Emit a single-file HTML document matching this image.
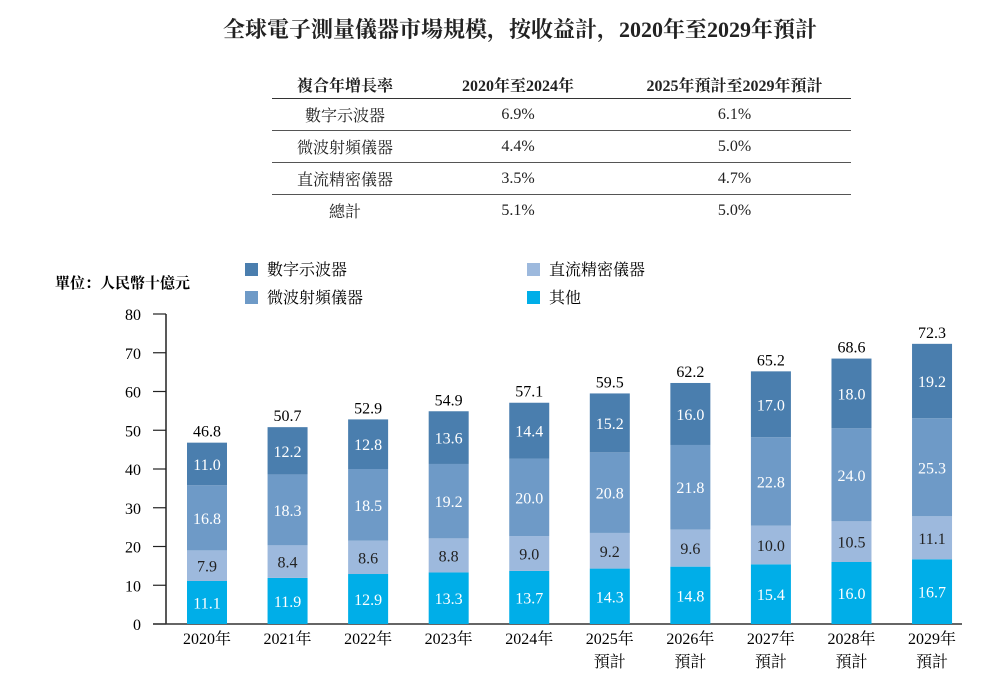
<!DOCTYPE html>
<html><head><meta charset="utf-8"><style>
body{margin:0;background:#fff;font-family:"Liberation Serif","Noto Serif CJK SC","Noto Sans CJK TC",serif;color:#222}
#wrap{position:relative;width:999px;height:684px;overflow:hidden}
.title{position:absolute;left:0;width:1040px;top:13px;text-align:center;font-size:22px;font-weight:bold}
table{position:absolute;left:272px;top:70px;width:579px;border-collapse:collapse;font-size:16px}
td{height:31px;text-align:center;padding:0}
tr.h td{font-weight:bold;border-bottom:1.5px solid #333;height:28px}
tr.r td{border-bottom:1px solid #555}
</style></head><body><div id="wrap">
<div class="title">全球電子測量儀器市場規模，按收益計，2020年至2029年預計</div>
<table>
<colgroup><col style="width:146px"><col style="width:200px"><col style="width:233px"></colgroup>
<tr class="h"><td>複合年增長率</td><td>2020年至2024年</td><td>2025年預計至2029年預計</td></tr>
<tr class="r"><td>數字示波器</td><td>6.9%</td><td>6.1%</td></tr>
<tr class="r"><td>微波射頻儀器</td><td>4.4%</td><td>5.0%</td></tr>
<tr class="r"><td>直流精密儀器</td><td>3.5%</td><td>4.7%</td></tr>
<tr><td>總計</td><td>5.1%</td><td>5.0%</td></tr>
</table>
<svg id="svg" width="999" height="684" style="position:absolute;left:0;top:0"></svg>
</div>
<script>
const categories=["2020年","2021年","2022年","2023年","2024年","2025年","2026年","2027年","2028年","2029年"];
const forecast=[0,0,0,0,0,1,1,1,1,1];
const other=[11.1,11.9,12.9,13.3,13.7,14.3,14.8,15.4,16.0,16.7];
const dc=[7.9,8.4,8.6,8.8,9.0,9.2,9.6,10.0,10.5,11.1];
const microwave=[16.8,18.3,18.5,19.2,20.0,20.8,21.8,22.8,24.0,25.3];
const scope=[11.0,12.2,12.8,13.6,14.4,15.2,16.0,17.0,18.0,19.2];
const totals=[46.8,50.7,52.9,54.9,57.1,59.5,62.2,65.2,68.6,72.3];
const yTicks=[0,10,20,30,40,50,60,70,80];
const seriesNames=["數字示波器","微波射頻儀器","直流精密儀器","其他"];
const NS="http://www.w3.org/2000/svg",svg=document.getElementById('svg');
const y=v=>624-v*(310/80), x=i=>207+i*80.56, BW=40;
function el(t,a,txt){const e=document.createElementNS(NS,t);for(const k in a)e.setAttribute(k,a[k]);if(txt!=null)e.textContent=txt;svg.appendChild(e);return e;}
const F='"Liberation Serif","Noto Serif CJK SC",serif';
let e;
e=el('text',{x:55,y:288,'font-size':15,'font-weight':'bold','font-family':F},'單位：人民幣十億元');

e=el('line',{x1:166,y1:y(80),x2:166,y2:624,stroke:'#222','stroke-width':1.5});

yTicks.forEach(t=>{
 e=el('line',{x1:153,y1:y(t),x2:166,y2:y(t),stroke:'#222','stroke-width':1.2});
 
 e=el('text',{x:141,y:y(t)+6,'text-anchor':'end','font-size':16,'font-family':F},t);
 
});
e=el('line',{x1:153,y1:624,x2:962,y2:624,stroke:'#333','stroke-width':1.5});

const series=[[other,'#00aee8','#fff'],[dc,'#9db9dd','#222'],[microwave,'#6e9ac7','#fff'],[scope,'#4a7eae','#fff']];
const snames=['bar-other','bar-dc','bar-microwave','bar-scope'];
categories.forEach((c,i)=>{
 let base=0;
 series.forEach(([arr,col,tc],s)=>{
  const v=arr[i];
  e=el('rect',{x:x(i)-BW/2,y:y(base+v),width:BW,height:y(base)-y(base+v),fill:col});
  
  e=el('text',{x:x(i),y:(y(base)+y(base+v))/2+6,'text-anchor':'middle','font-size':16,fill:tc,'font-family':F},v.toFixed(1));
  
  base+=v;
 });
 e=el('text',{x:x(i),y:y(base)-6,'text-anchor':'middle','font-size':16,'font-family':F},totals[i].toFixed(1));
 
 e=el('text',{x:x(i),y:644,'text-anchor':'middle','font-size':16,'font-family':F},c);
 
 if(forecast[i]){e=el('text',{x:x(i),y:667,'text-anchor':'middle','font-size':16,'font-family':F},'預計');
 }
});
const leg=[[245,263,'#4a7eae',0],[527,263,'#9db9dd',2],[245,291,'#6e9ac7',1],[527,291,'#00aee8',3]];
leg.forEach(([lx,ly,col,k])=>{
 e=el('rect',{x:lx,y:ly,width:13,height:13,fill:col});
 
 e=el('text',{x:lx+22,y:ly+12,'font-size':16,'font-family':F},k==3?'其他':seriesNames[k]);
 
});
</script></body></html>
